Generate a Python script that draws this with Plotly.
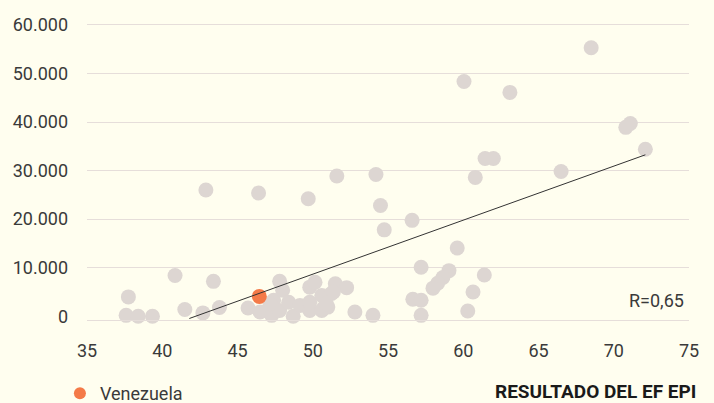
import plotly.graph_objects as go

# Resultado del EF EPI (x) vs. PIB per cápita (y)
ef_epi = [68.5, 60.05, 63.1, 71.1, 70.8, 72.1, 61.45, 62.0, 60.8, 66.5, 54.2, 51.6,
          42.9, 46.4, 49.7, 54.5, 54.75, 56.6, 59.6, 57.2, 59.05, 58.65, 58.3, 57.99,
          61.4, 60.65, 60.3, 56.65, 57.2, 57.2, 54.0, 52.8,
          37.6, 37.75, 38.4, 39.35, 40.85, 41.5, 42.7, 43.4, 43.8, 45.7, 46.5, 47.27,
          47.4, 47.8, 48.0, 47.8, 48.4, 48.7, 49.15, 49.8, 49.8, 49.8, 50.15, 50.6,
          50.6, 51.0, 51.25, 51.5, 52.25, 47.16, 50.7, 50.9, 51.37]
pib_pc = [55300, 48350, 46100, 39700, 38900, 34400, 32500, 32500, 28600, 29800, 29200, 28900,
          26000, 25400, 24200, 22800, 17800, 19750, 14050, 10100, 9400, 8000, 6800, 5800,
          8500, 5000, 1100, 3500, 3300, 200, 200, 900,
          200, 4000, 0, 0, 8400, 1400, 700, 7200, 1800, 1700, 900, 200,
          3300, 7200, 5350, 1200, 2900, 0, 2250, 1200, 2900, 6000, 7000, 4300,
          1200, 1900, 4700, 6700, 5900, 2600, 1600, 2600, 5000]

highlight_name = "Venezuela"
highlight_x = [46.45]
highlight_y = [4100]

trend_x = [41.8, 72.1]
trend_y = [-450, 33250]

x_ticks = [35, 40, 45, 50, 55, 60, 65, 70, 75]
y_ticks = [0, 10000, 20000, 30000, 40000, 50000, 60000]
y_ticktext = ["0", "10.000", "20.000", "30.000", "40.000", "50.000", "60.000"]

r_label = "R=0,65"
x_title = "RESULTADO DEL EF EPI"

BG = "#fffeef"
GRID = "#e6deda"
GRAY = "#ddd6d2"
ORANGE = "#f47a48"
TEXT = "#3a3a3a"
FONT = "Roboto"

fig = go.Figure()
fig.add_trace(go.Scatter(
    x=ef_epi, y=pib_pc, mode="markers", showlegend=False, cliponaxis=False,
    marker=dict(size=15, color=GRAY, line=dict(width=0)), hoverinfo="x+y"))
fig.add_trace(go.Scatter(
    x=highlight_x, y=highlight_y, mode="markers", name=highlight_name, cliponaxis=False,
    marker=dict(size=15, color=ORANGE, line=dict(width=0))))
fig.add_trace(go.Scatter(
    x=trend_x, y=trend_y, mode="lines", showlegend=False, cliponaxis=False,
    line=dict(color="#333333", width=1)))

fig.update_layout(
    width=714, height=403,
    margin=dict(l=87, r=25, t=20, b=83, autoexpand=False),
    paper_bgcolor=BG, plot_bgcolor=BG,
    font=dict(family=FONT, size=18, color=TEXT),
    xaxis=dict(range=[35, 75], tickvals=x_ticks, showgrid=False, zeroline=False,
               showline=True, linecolor=GRID, linewidth=1, ticks="",
               ticklabelstandoff=14, tickfont=dict(size=18, color=TEXT)),
    yaxis=dict(range=[-760, 61000], tickvals=y_ticks, ticktext=y_ticktext,
               showgrid=True, gridcolor=GRID, gridwidth=1,
               zeroline=True, zerolinecolor=BG, zerolinewidth=1,
               showline=False, ticks="", ticklabelstandoff=18,
               tickfont=dict(size=18, color=TEXT)),
    legend=dict(x=-0.045, y=-0.245, xanchor="left", yanchor="middle",
                bgcolor="rgba(0,0,0,0)", font=dict(size=18, color=TEXT),
                itemsizing="constant"),
    showlegend=True,
    annotations=[
        dict(text=r_label, xref="paper", x=0.995, xanchor="right",
             yref="y", y=3300, yanchor="middle", showarrow=False,
             font=dict(size=18, color=TEXT)),
        dict(text="<b>" + x_title + "</b>", xref="paper", x=1.015, xanchor="right",
             yref="paper", y=-0.238, yanchor="middle", showarrow=False,
             font=dict(size=19, color="#1a1a1a")),
    ],
)

fig.write_html(
    "out.html",
    config={"displayModeBar": False},
    post_script=("document.body.style.margin='0';"
                 "document.body.style.background='" + BG + "';"
                 "document.body.style.overflow='hidden';"),
)
